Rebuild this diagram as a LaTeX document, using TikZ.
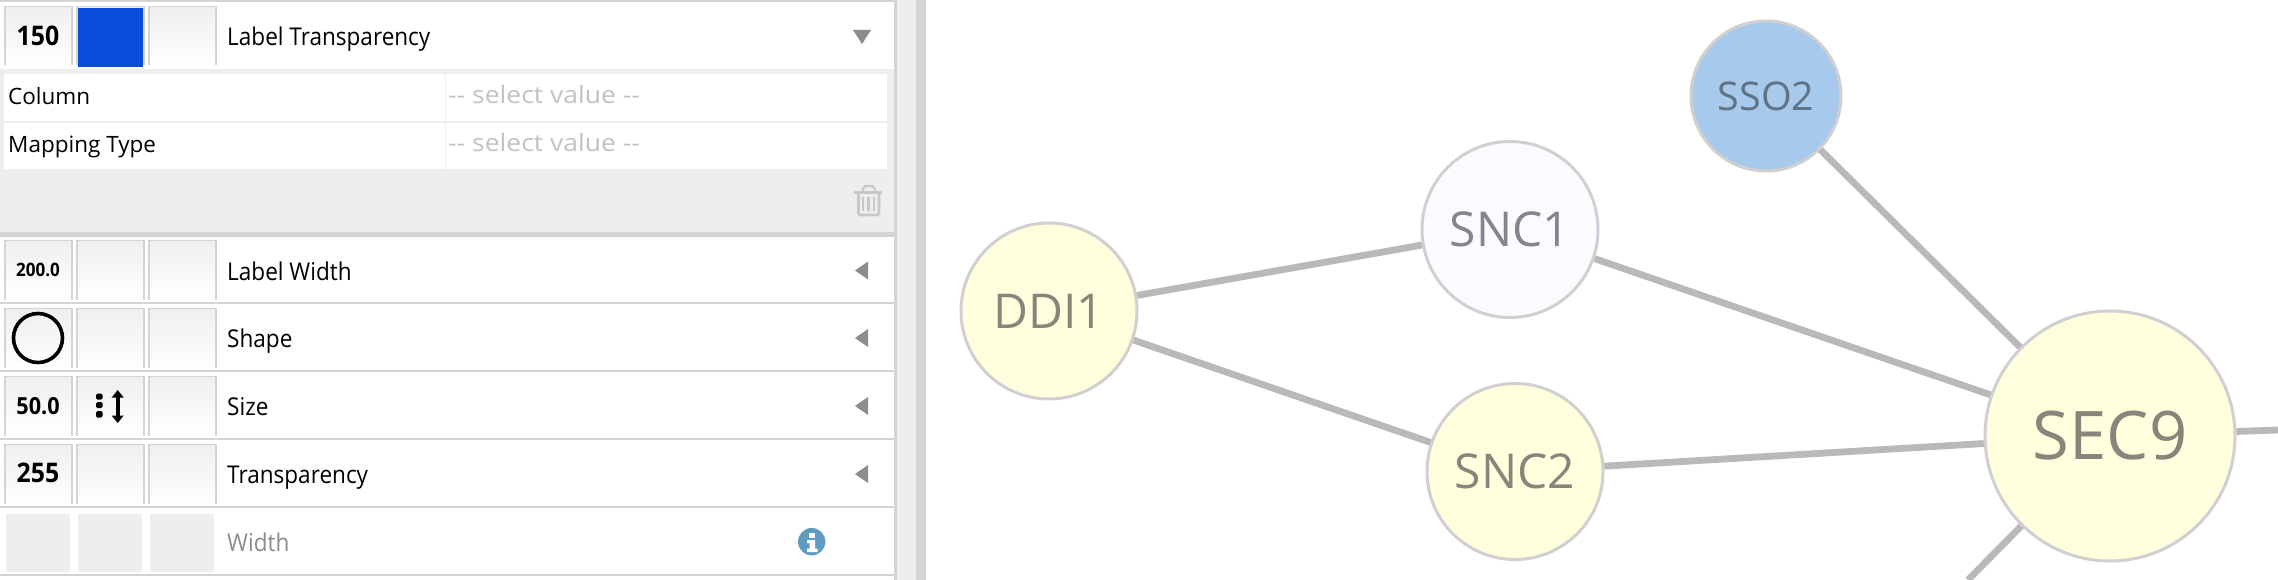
\documentclass[tikz,border=0pt]{standalone}
\usepackage{fontspec}
\setmainfont{Open Sans}
\definecolor{barG}{HTML}{D4D4D4}
\definecolor{panelG}{HTML}{EEEEEE}
\definecolor{cellTop}{HTML}{EFEFEF}
\definecolor{edgeG}{HTML}{B9B9B9}
\definecolor{ringG}{HTML}{D0D0D0}
\definecolor{trashG}{HTML}{C8C8C8}
\definecolor{triG}{HTML}{8C8C8C}
\definecolor{hintG}{HTML}{C2C2C2}
\definecolor{nodeY}{HTML}{FFFFDD}
\definecolor{nodeW}{HTML}{FAFBFE}
\definecolor{nodeB}{HTML}{A6C9EC}
\definecolor{txtY}{HTML}{86867A}
\definecolor{txtW}{HTML}{85868C}
\definecolor{txtB}{HTML}{5F7286}
\definecolor{infoB}{HTML}{5F9CC0}
\definecolor{blueFill}{HTML}{0A4CDC}
\newcommand{\fs}[1]{\fontsize{#1pt}{#1pt}\selectfont}
\newcommand{\nar}[1]{\scalebox{.92}[1]{#1}}
\newcommand{\hinttext}{\scalebox{1.105}[1]{-{}- select value -{}-}}
\tikzset{
  x=1pt,y=-1pt,
  gene/.style={circle,draw=ringG,line width=3pt,inner sep=0pt},
  link/.style={draw=edgeG,line width=6.8pt},
  propname/.style={anchor=base west,inner sep=0pt,font=\fs{24.5}},
  rowname/.style={anchor=base west,inner sep=0pt,font=\fs{22.5}},
  hint/.style={anchor=base west,inner sep=0pt,font=\fs{24},text=hintG},
  val/.style={anchor=base,inner sep=0pt,font=\bfseries\fs{#1}},
  rule/.style={fill=barG,draw=none},
}
% one column of a property row: gradient button open at the bottom
\newcommand{\btn}[2]{%
  \fill[top color=cellTop,bottom color=white,draw=none] (#1,#2) rectangle ++(67,59);
  \draw[barG,line width=1.8pt] (#1,#2+59) -- (#1,#2) -- ++(67,0) -- ++(0,59);
}
\newcommand{\btnrow}[1]{\btn{5}{#1}\btn{77}{#1}\btn{149}{#1}}
\newcommand{\lefttri}[1]{\fill[triG] (868,#1-9) -- (855,#1) -- (868,#1+9) -- cycle;}
\begin{document}
\begin{tikzpicture}
\useasboundingbox (0,0) rectangle (2278,580);
\fill[white] (0,0) rectangle (2278,580);
% panel frame
\fill[rule] (0,0) rectangle (896,2.5);
\fill[panelG] (896,0) rectangle (916,580);
\fill[rule] (893.5,0) rectangle (897,580);
\fill[rule] (916,0) rectangle (926,580);
% expanded row
\btnrow{6.5}
\fill[blueFill] (78,8) rectangle (143,67);
\fill[panelG] (0,69) rectangle (893.5,233);
\fill[white] (4,74) rectangle (887,121);
\fill[white] (4,123) rectangle (887,169);
\fill[panelG] (444.5,74) rectangle (446,169);
\fill[rule] (0,232.5) rectangle (893.5,237);
\node[val=27] (v150) at (38,46) {\nar{150}};
\node[propname] (lt) at (227,46) {\nar{Label Transparency}};
\fill[triG] (853,30) -- (871,30) -- (862,44) -- cycle;
\node[rowname] (col) at (8,104.5) {Column};
\node[rowname] (map) at (8,152.5) {Mapping Type};
\node[hint] (h1) at (448,103.5) {\hinttext};
\node[hint] (h2) at (448,151.5) {\hinttext};
% trash
\begin{scope}[draw=trashG,line width=2.6pt]
  \draw (854,192.5) -- (882,192.5);
  \draw[line width=2.2pt,rounded corners=2pt] (862.5,192) -- (863.5,186) -- (874,186) -- (875,192);
  \draw[rounded corners=2pt] (858.5,193) -- (858.5,215) -- (879,215) -- (879,193);
  \draw (863,197) -- (863,211) (868.7,197) -- (868.7,211) (874,197) -- (874,211);
\end{scope}
% property rows
\btnrow{240.5}
\fill[rule] (0,302) rectangle (893.5,304);
\btnrow{308.5}
\fill[rule] (0,370) rectangle (893.5,372);
\btnrow{376.5}
\fill[rule] (0,438) rectangle (893.5,440);
\btnrow{444.5}
\fill[rule] (0,506) rectangle (893.5,508);
\fill[rule] (0,574) rectangle (893.5,576);
\fill[panelG] (6,514) rectangle (70,572);
\fill[panelG] (78,514) rectangle (142,572);
\fill[panelG] (150,514) rectangle (214,572);
\node[val=18.5] (v200) at (38,276.5) {\nar{200.0}};
\draw[black,line width=3.6pt] (38,338) circle (24.5);
\node[val=23.5] (v50) at (38,414.5) {\nar{50.0}};
\node[val=27] (v255) at (38,482.5) {\nar{255}};
% size mapping icon
\fill[black,rounded corners=1.5pt] (96,393.5) rectangle (102.7,399.5) (96,402) rectangle (102.7,408) (96,411) rectangle (102.7,417.5);
\draw[black,line width=4pt] (117.7,396) -- (117.7,418);
\fill[black] (117.7,390) -- (123.7,397.5) -- (111.7,397.5) -- cycle;
\fill[black] (117.7,423) -- (123.7,415.5) -- (111.7,415.5) -- cycle;
\node[propname] (lw) at (227,280) {\nar{Label Width}};
\node[propname] (sh) at (227,347.5) {\nar{Shape}};
\node[propname] (sz) at (227,415) {\nar{Size}};
\node[propname] (tr) at (227,483) {\nar{Transparency}};
\node[propname,text=triG] (wd) at (227,551.5) {\nar{Width}};
\lefttri{270.5}\lefttri{338}\lefttri{406}\lefttri{474}
\fill[infoB] (811.7,541.7) circle (13.7);
\fill[white] (809,533) rectangle (815,537.5);
\fill[white] (807,540) -- (815,540) -- (815,548.5) -- (817.5,548.5) -- (817.5,552) -- (807,552) -- (807,548.5) -- (809.5,548.5) -- (809.5,543) -- (807,543) -- cycle;
% network
\node[gene,fill=nodeY,minimum size=176pt,text=txtY,font=\fs{48}] (DDI1) at (1049,311) {DDI1};
\node[gene,fill=nodeW,minimum size=176pt,text=txtW,font=\fs{48}] (SNC1) at (1510,229.5) {SNC1};
\node[gene,fill=nodeY,minimum size=176pt,text=txtY,font=\fs{48}] (SNC2) at (1515,471.5) {SNC2};
\node[gene,fill=nodeB,minimum size=150pt,text=txtB,font=\fs{39.5}] (SSO2) at (1766,96) {SSO2};
\node[gene,fill=nodeY,minimum size=250pt,text=txtY,font=\fs{67}] (SEC9) at (2110,436) {SEC9};
\coordinate (offR) at (2278,430);
\coordinate (offB) at (1968,580);
\draw[link] (DDI1) -- (SNC1);
\draw[link] (DDI1) -- (SNC2);
\draw[link] (SNC1) -- (SEC9);
\draw[link] (SNC2) -- (SEC9);
\draw[link] (SSO2) -- (SEC9);
\draw[link] (SEC9) -- (offR);
\draw[link] (SEC9) -- (offB);
\end{tikzpicture}
\end{document}
